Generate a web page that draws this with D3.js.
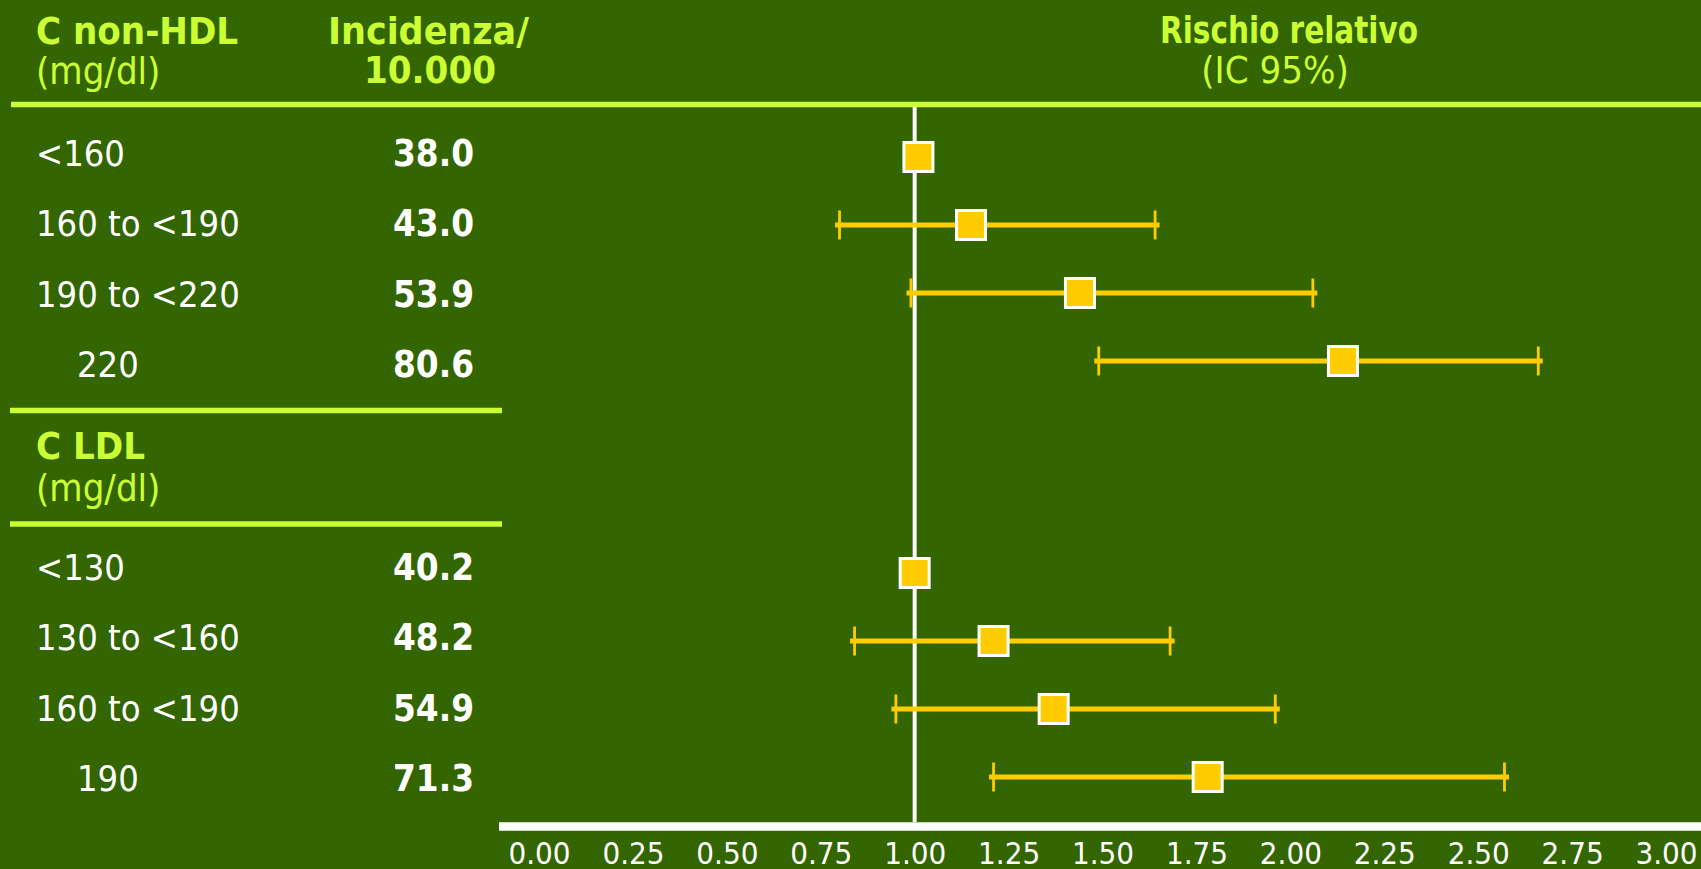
<!DOCTYPE html>
<html lang="it">
<head>
<meta charset="utf-8">
<title>Rischio relativo – C non-HDL e C LDL</title>
<script src="https://cdn.jsdelivr.net/npm/d3@7"></script>
<style>
  html, body { margin: 0; padding: 0; background: #336600; }
  svg { display: block; }
  text { font-family: "DejaVu Sans Condensed", "DejaVu Sans", sans-serif; font-stretch: condensed; }
</style>
</head>
<body>
<svg id="chart" width="1701" height="869"></svg>
<script>
// Categories, incidence per 10,000 and relative risk with 95% CI
const nonHdlCategories = ["<160", "160 to <190", "190 to <220", "220"];
const nonHdlIncidence  = [38.0, 43.0, 53.9, 80.6];
const nonHdlRR         = [1.01, 1.15, 1.44, 2.14];
const nonHdlLow        = [null, 0.80, 0.99, 1.49];
const nonHdlHigh       = [null, 1.64, 2.06, 2.66];

const ldlCategories = ["<130", "130 to <160", "160 to <190", "190"];
const ldlIncidence  = [40.2, 48.2, 54.9, 71.3];
const ldlRR         = [1.00, 1.21, 1.37, 1.78];
const ldlLow        = [null, 0.84, 0.95, 1.21];
const ldlHigh       = [null, 1.68, 1.96, 2.57];

const tickValues = [0, 0.25, 0.5, 0.75, 1, 1.25, 1.5, 1.75, 2, 2.25, 2.5, 2.75, 3];

// Colours
const BG = "#336600";
const LIME = "#CCFF33";
const GOLD = "#FFCC00";
const WHITE = "#FFFFFF";

const svg = d3.select("#chart");
const W = 1701, H = 869;

svg.append("rect").attr("width", W).attr("height", H).attr("fill", BG);

// Scales
const x = d3.scaleLinear().domain([0, 3]).range([539, 1666]);

function makeGroup(categories, incidence, rr, low, high, markRange, textRange, labelIndent) {
  return {
    rows: categories.map((c, i) => ({
      cat: c, inc: incidence[i], rr: rr[i], lo: low[i], hi: high[i],
      indent: labelIndent.includes(c)
    })),
    yMark: d3.scalePoint().domain(categories).range(markRange),
    yText: d3.scalePoint().domain(categories).range(textRange)
  };
}

const groups = [
  makeGroup(nonHdlCategories, nonHdlIncidence, nonHdlRR, nonHdlLow, nonHdlHigh, [157, 361], [166, 377], ["220"]),
  makeGroup(ldlCategories, ldlIncidence, ldlRR, ldlLow, ldlHigh, [573, 777], [580, 791], ["190"])
];

// Header texts
const head = svg.append("g").attr("fill", LIME);
head.append("text").attr("x", 36).attr("y", 44).attr("font-size", 38).attr("font-weight", "bold").text("C non-HDL");
head.append("text").attr("x", 36).attr("y", 84).attr("font-size", 38).text("(mg/dl)");
head.append("text").attr("x", 328).attr("y", 44).attr("font-size", 38).attr("font-weight", "bold")
  .attr("textLength", 201).attr("lengthAdjust", "spacingAndGlyphs").text("Incidenza/");
head.append("text").attr("x", 430).attr("y", 83).attr("font-size", 38).attr("font-weight", "bold")
  .attr("text-anchor", "middle").text("10.000");
head.append("text").attr("x", 1289).attr("y", 43).attr("font-size", 38).attr("font-weight", "bold")
  .attr("text-anchor", "middle")
  .attr("textLength", 258).attr("lengthAdjust", "spacingAndGlyphs").text("Rischio relativo");
head.append("text").attr("x", 1275).attr("y", 83).attr("font-size", 38)
  .attr("text-anchor", "middle").text("(IC 95%)");

// Second section heading
head.append("text").attr("x", 36).attr("y", 459).attr("font-size", 38).attr("font-weight", "bold").text("C LDL");
head.append("text").attr("x", 36).attr("y", 501).attr("font-size", 38).text("(mg/dl)");

// Rules
svg.append("line").attr("x1", 11).attr("x2", W).attr("y1", 104.5).attr("y2", 104.5)
  .attr("stroke", LIME).attr("stroke-width", 5.6);
[410.5, 524].forEach(y => {
  svg.append("line").attr("x1", 10).attr("x2", 502).attr("y1", y).attr("y2", y)
    .attr("stroke", LIME).attr("stroke-width", 5.6);
});

// Reference line at RR = 1
svg.append("line").attr("x1", x(1)).attr("x2", x(1)).attr("y1", 107).attr("y2", 822)
  .attr("stroke", WHITE).attr("stroke-width", 4);

// Axis
const axisY = 826.5;
svg.append("line").attr("x1", 499).attr("x2", W).attr("y1", axisY).attr("y2", axisY)
  .attr("stroke", WHITE).attr("stroke-width", 8.5);
const axis = d3.axisBottom(x).tickValues(tickValues).tickFormat(d3.format(".2f")).tickSize(0);
const gAxis = svg.append("g").attr("transform", `translate(0,${axisY})`).call(axis);
gAxis.select(".domain").remove();
gAxis.selectAll("text")
  .attr("y", 37).attr("dy", 0)
  .attr("fill", WHITE)
  .attr("font-size", 31)
  .attr("font-family", "'DejaVu Sans Condensed', 'DejaVu Sans', sans-serif");

// Rows
groups.forEach(g => {
  const rows = svg.append("g").selectAll("g").data(g.rows).join("g");

  rows.append("text")
    .attr("x", d => d.indent ? 77 : 36)
    .attr("y", d => g.yText(d.cat))
    .attr("fill", WHITE).attr("font-size", 36)
    .text(d => d.cat);

  rows.append("text")
    .attr("x", 474)
    .attr("y", d => g.yText(d.cat))
    .attr("text-anchor", "end")
    .attr("fill", WHITE).attr("font-size", 36.5).attr("font-weight", "bold")
    .text(d => d3.format(".1f")(d.inc));

  const ci = rows.filter(d => d.lo != null);
  ci.append("line")
    .attr("x1", d => x(d.lo) - 4.5).attr("x2", d => x(d.hi) + 4.5)
    .attr("y1", d => g.yMark(d.cat)).attr("y2", d => g.yMark(d.cat))
    .attr("stroke", GOLD).attr("stroke-width", 5);
  ["lo", "hi"].forEach(k => {
    ci.append("line")
      .attr("x1", d => x(d[k])).attr("x2", d => x(d[k]))
      .attr("y1", d => g.yMark(d.cat) - 14.5).attr("y2", d => g.yMark(d.cat) + 14.5)
      .attr("stroke", GOLD).attr("stroke-width", 2.8);
  });

  const s = 29;
  rows.append("rect")
    .attr("x", d => x(d.rr) - s / 2).attr("y", d => g.yMark(d.cat) - s / 2)
    .attr("width", s).attr("height", s)
    .attr("fill", GOLD).attr("stroke", WHITE).attr("stroke-width", 3);
});
</script>
</body>
</html>
